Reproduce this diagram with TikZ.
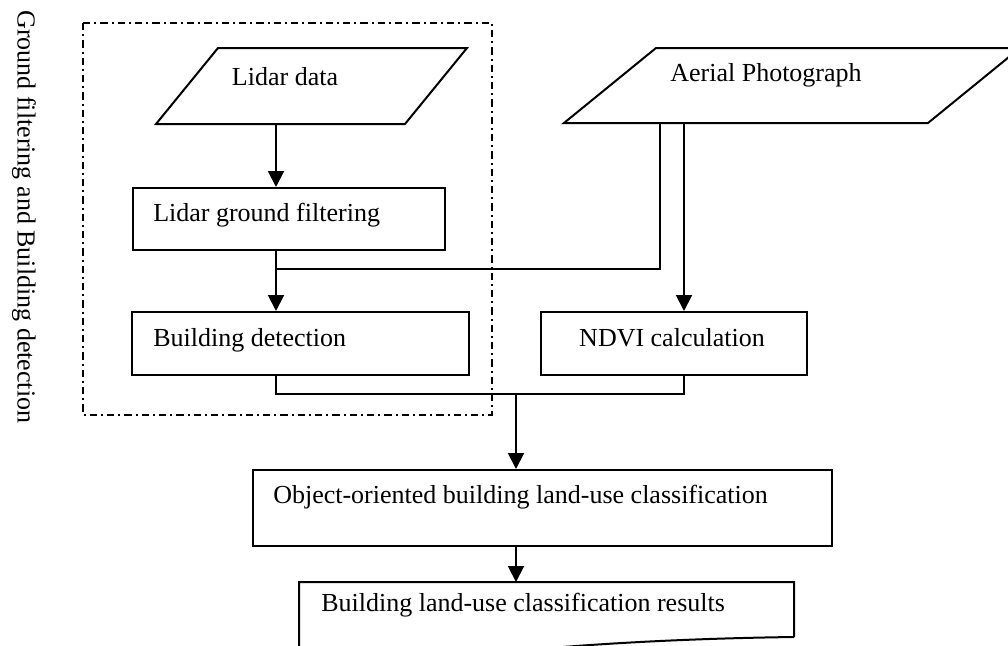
\documentclass[tikz,border=0pt]{standalone}
\usepackage{fontspec}
\setmainfont{Liberation Serif}
\usetikzlibrary{arrows.meta,calc}
\begin{document}
\begin{tikzpicture}[x=0.75pt,y=-0.75pt,
  line/.style={line width=1.5pt},
  box/.style={draw, line width=1.5pt, inner sep=0pt, anchor=north west},
  lbl/.style={font=\fontsize{19.5}{23}\selectfont, inner sep=0pt},
  arr/.style={line width=1.5pt, -{Triangle[length=12pt,width=12pt]}},
  group/.style={line width=1.1pt, dash pattern=on 5.5pt off 3pt on 1.5pt off 3pt}]
\useasboundingbox (0,0) rectangle (1008,646);
\clip (0,0) rectangle (1008,646);

% side caption of the dash-dot group
\node[lbl, rotate=-90, anchor=west] (cap) at (24,10) {Ground filtering and Building detection};

% dash-dot group frame
\draw[group] (83,23) rectangle (492,415);

% input data (parallelograms)
\draw[line] (218,48) -- (467,48) -- (405,124) -- (156,124) -- cycle;
\node[lbl] (lidar) at (285,77) {Lidar data};
\coordinate (lidar-out) at (276,124);

\draw[line] (656,48) -- (1020,48) -- (928,123) -- (564,123) -- cycle;
\node[lbl] (aerial) at (766,75) {Aerial Photograph};
\coordinate (aer-a) at (660,123);
\coordinate (aer-b) at (684,123);

% process boxes
\node[box, minimum width=234pt, minimum height=46.5pt] (lgf) at (132,187) {};
\node[lbl, anchor=west] (lgf-t) at (153,215) {Lidar ground filtering};

\node[box, minimum width=252.75pt, minimum height=47.25pt] (bd) at (131,311) {};
\node[lbl, anchor=west] (bd-t) at (153,340) {Building detection};

\node[box, minimum width=199.5pt, minimum height=47.25pt] (ndvi) at (540,311) {};
\node[lbl] (ndvi-t) at (672,338) {NDVI calculation};

\node[box, minimum width=434.25pt, minimum height=57pt] (obj) at (252,469) {};
\node[lbl, anchor=west] (obj-t) at (273,497) {Object-oriented building land-use classification};

% result (document shape)
\draw[line] (794,637) -- (794,582) -- (299,582) -- (299,670)
  .. controls (420,664) and (500,652) .. (563,647)
  .. controls (640,641) and (720,638) .. (794,637);
\coordinate (res-top) at (516,582);
\node[lbl, anchor=west] (res-t) at (321,605) {Building land-use classification results};

% connectors
\coordinate (join1) at (276,269);
\coordinate (merge) at (516,394);
\draw[arr] (lidar-out) -- (lidar-out |- lgf.north);
\draw[arr] (lidar-out |- lgf.south) -- (lidar-out |- bd.north);
\draw[line] (aer-a) -- (aer-a |- join1) -- (join1);
\draw[arr] (aer-b) -- (aer-b |- ndvi.north);
\draw[line] (lidar-out |- bd.south) -- (lidar-out |- merge) -- (aer-b |- merge) -- (aer-b |- ndvi.south);
\draw[arr] (merge) -- (merge |- obj.north);
\draw[arr] (merge |- obj.south) -- (res-top);
\end{tikzpicture}
\end{document}
